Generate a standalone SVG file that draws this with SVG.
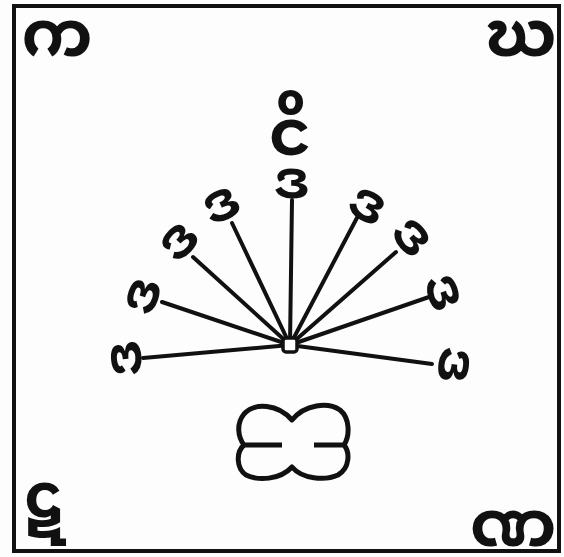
<svg xmlns="http://www.w3.org/2000/svg" width="564" height="557" viewBox="0 0 564 557">
<style>
.m{font-family:"Noto Sans Myanmar","Padauk","Myanmar Text","Myanmar3","Noto Sans",sans-serif;fill:#111;text-anchor:middle;font-weight:700;}
.c{font-size:64px;}
.r{font-size:54px;}
.ray{stroke:#111;stroke-width:4;stroke-linecap:round;}
</style>
<rect x="0" y="0" width="564" height="557" fill="#fdfdfd"/>
<rect x="14" y="6" width="545" height="545" fill="none" stroke="#111" stroke-width="4"/>
<g id="corner-tl"><text class="m c" x="57" y="56">က</text></g>
<g id="corner-tr"><text class="m c" x="521" y="56">ဃ</text></g>
<g id="corner-bl"><text class="m c" x="45" y="517" style="font-size:62px">ဋ</text></g>
<g id="corner-br"><text class="m c" x="513" y="546">ဏ</text></g>
<g id="top-label"><text class="m c" x="290" y="155">ငိ</text></g>
<g id="connectors">
<line class="ray" x1="143" y1="358" x2="290" y2="345"/>
<line class="ray" x1="162" y1="302" x2="290" y2="345"/>
<line class="ray" x1="193" y1="257" x2="290" y2="345"/>
<line class="ray" x1="232" y1="223" x2="290" y2="345"/>
<line class="ray" x1="292" y1="200" x2="290" y2="345"/>
<line class="ray" x1="359" y1="214" x2="290" y2="345"/>
<line class="ray" x1="396" y1="252" x2="290" y2="345"/>
<line class="ray" x1="429" y1="297" x2="290" y2="345"/>
<line class="ray" x1="432" y1="364" x2="290" y2="345"/>
</g>
<g id="hub"><rect x="283" y="338" width="14" height="14" rx="3" fill="#fff" stroke="#111" stroke-width="3.5"/></g>
<g id="ray-labels">
<text class="m r" transform="translate(127,358) rotate(-95)" y="14">ဒ</text>
<text class="m r" transform="translate(144,296) rotate(-72)" y="14">ဒ</text>
<text class="m r" transform="translate(180,242) rotate(-47)" y="14">ဒ</text>
<text class="m r" transform="translate(222,206) rotate(-26)" y="14">ဒ</text>
<text class="m r" transform="translate(292,184)" y="14">ဒ</text>
<text class="m r" transform="translate(367,207) rotate(29)" y="14">ဒ</text>
<text class="m r" transform="translate(411,238) rotate(48)" y="14">ဒ</text>
<text class="m r" transform="translate(442,293) rotate(71)" y="14">ဒ</text>
<text class="m r" transform="translate(453,365) rotate(97)" y="14">ဒ</text>
</g>
<g id="seal">
<path d="M292,420 C278,404 255,402 244,414 C236,424 238,437 244,445 C236,452 236,468 246,475 C258,481 280,480 292,467 C302,479 325,481 338,475 C350,468 350,452 344,445 C350,436 350,418 340,410 C328,402 305,404 292,420 Z M244,445 H282 M344,445 H314" fill="none" stroke="#111" stroke-width="5" stroke-linejoin="round"/>
</g>
</svg>
